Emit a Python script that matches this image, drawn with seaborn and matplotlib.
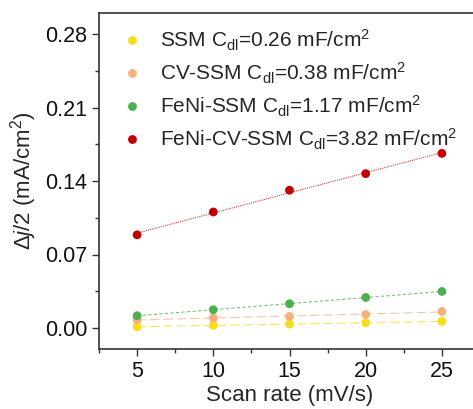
import numpy as np
import pandas as pd
import matplotlib
matplotlib.use("Agg")
import matplotlib.pyplot as plt
import seaborn as sns
from matplotlib.ticker import MultipleLocator

scan_rate = [5, 10, 15, 20, 25]
ssm = [0.0012, 0.0025, 0.0038, 0.0050, 0.0063]
cv_ssm = [0.0079, 0.0095, 0.0110, 0.0129, 0.0158]
feni_ssm = [0.0117, 0.0174, 0.0231, 0.0291, 0.0348]
feni_cv_ssm = [0.0887, 0.1105, 0.1312, 0.1470, 0.1663]
labels = ["SSM C$_{\\mathrm{dl}}$=0.26 mF/cm$^2$",
          "CV-SSM C$_{\\mathrm{dl}}$=0.38 mF/cm$^2$",
          "FeNi-SSM C$_{\\mathrm{dl}}$=1.17 mF/cm$^2$",
          "FeNi-CV-SSM C$_{\\mathrm{dl}}$=3.82 mF/cm$^2$"]
colors = ["#F7DC1A", "#F5B07E", "#4CAF50", "#C00000"]
line_styles = [(0, (8, 4)), (0, (8, 4)), (0, (3, 2)), (0, (1, 1))]

sns.set_theme(style="ticks")
plt.rcParams['font.family'] = ['Liberation Sans', 'DejaVu Sans']
plt.rcParams['mathtext.fontset'] = 'custom'
plt.rcParams['mathtext.rm'] = 'Liberation Sans'
plt.rcParams['mathtext.it'] = 'Liberation Sans:italic'

rows = []
for lab, vals in zip(labels, [ssm, cv_ssm, feni_ssm, feni_cv_ssm]):
    for x, y in zip(scan_rate, vals):
        rows.append({"rate": x, "val": y, "series": lab})
df = pd.DataFrame(rows)

fig = plt.figure(figsize=(4.73, 4.09), dpi=100)
ax = fig.add_axes([99/473, 1 - 349/409, 381/473, 336/409])

for lab, vals, c, ls in zip(labels, [ssm, cv_ssm, feni_ssm, feni_cv_ssm], colors, line_styles):
    k, b = np.polyfit(scan_rate, vals, 1)
    xs = np.array([scan_rate[0], scan_rate[-1]])
    ax.plot(xs, k * xs + b, color=c, lw=0.8, ls=ls, alpha=0.75, zorder=1)

sns.scatterplot(data=df, x="rate", y="val", hue="series", palette=colors,
                s=40, edgecolor="none", ax=ax, zorder=3)

ax.set_xlim(2.5, 27.5)
ax.set_ylim(-0.02, 0.30)
ax.set_xticks(scan_rate)
ax.set_yticks([0.00, 0.07, 0.14, 0.21, 0.28])
ax.set_yticklabels(["0.00", "0.07", "0.14", "0.21", "0.28"])
ax.xaxis.set_minor_locator(MultipleLocator(2.5))
ax.yaxis.set_minor_locator(MultipleLocator(0.035))
ax.tick_params(axis='both', which='major', labelsize=15.5, length=5, width=1, color='#333333', labelcolor='#111111')
ax.tick_params(axis='both', which='minor', length=3, width=1, color='#333333')
for s in ax.spines.values():
    s.set_linewidth(1.2)
    s.set_color('#333333')
ax.set_xlabel("Scan rate (mV/s)", fontsize=16, labelpad=2)
ax.set_ylabel("$\\mathit{\\Delta j}$/2 (mA/cm$^2$)", fontsize=16, labelpad=4)

leg = ax.legend(loc="upper left", bbox_to_anchor=(0.015, 1.0), frameon=False,
                fontsize=15, handlelength=1.2, handletextpad=0.75, labelspacing=0.37,
                borderaxespad=0.3, markerscale=1.0)

fig.savefig("out.png", dpi=100)
